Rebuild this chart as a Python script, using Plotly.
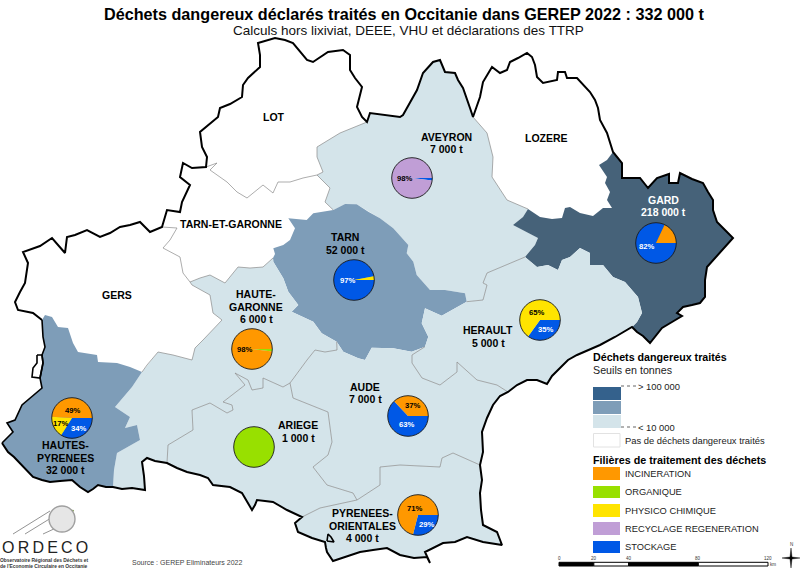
import plotly.graph_objects as go

W, H = 800, 570
# ---------- map outline arcs (image coordinates of the reference) ----------
a_hp_s = [(2,443),(8,452),(14,457),(20,463),(26,470),(33,477),(42,480),(50,482),(60,481),(72,480),(80,487),(88,492),(93,489),(98,485),(106,487),(113,487)]
a_hg_s = [(113,487),(122,489),(132,488),(145,490),(144,476),(142,462),(147,458),(155,461),(167,463)]
a_ar_s = [(167,463),(177,468),(187,472),(200,475),(208,478),(213,485),(230,487),(242,493),(247,502),(252,510),(255,505),(257,500),(265,501),(273,502),(287,510),(302,517)]
a_po_s = [(302,517),(295,523),(298,532),(312,538),(325,542),(326,548),(327,552),(333,561),(345,557),(360,552),(373,550),(387,548),(400,555),(414,558),(427,557),(430,563),(425,552),(443,543),(455,542),(467,537),(483,542),(502,545),(497,532),(483,525),(481,510),(480,493),(482,480),(480,465)]
a_au_c = [(480,465),(483,452),(482,432),(487,418),(493,405),(500,396),(508,392)]
a_he_c = [(508,392),(517,385),(527,380),(537,380),(547,384),(552,376),(560,368),(568,360),(577,355),(588,350),(600,345),(615,337),(632,327)]
a_ga_o = [(632,327),(637,332),(643,336),(650,343),(656,335),(662,328),(672,322),(682,316),(677,313),(683,307),(692,305),(700,303),(705,297),(705,280),(707,267),(715,258),(723,250),(733,238),(725,230),(717,222),(713,210),(713,200),(708,192),(703,183),(692,179),(680,173),(678,183),(669,183),(669,174),(657,178),(648,188),(640,178),(622,178),(622,163),(613,152)]
a_lz_o = [(613,152),(610,143),(607,133),(600,120),(598,108),(595,100),(590,92),(577,78),(567,78),(565,72),(558,72),(557,80),(543,83),(537,77),(535,65),(532,57),(527,53),(518,58),(510,62),(507,70),(500,73),(492,67),(488,74),(483,82),(480,97),(473,117)]
a_av_o = [(473,117),(470,108),(467,100),(463,88),(458,80),(455,73),(445,72),(440,60),(433,62),(423,73),(417,90),(410,103),(403,115),(400,117),(383,115),(370,113),(367,122)]
a_lo_o = [(367,122),(362,117),(357,107),(362,87),(355,78),(350,70),(350,55),(343,50),(328,52),(313,62),(307,60),(300,52),(293,43),(285,40),(275,38),(258,43),(260,55),(260,67),(248,78),(243,85),(242,97),(230,104),(220,108),(218,117),(208,125),(200,132),(202,147),(207,157),(206,167)]
a_tg_o = [(206,167),(192,168),(183,163),(180,177),(190,185),(186,193),(182,202),(180,212),(167,210),(162,227)]
a_ge_o = [(162,227),(150,232),(140,222),(130,225),(120,227),(110,233),(100,237),(87,230),(75,235),(67,237),(65,253),(58,245),(52,238),(40,246),(23,252),(28,263),(25,283),(20,292),(15,302),(18,310),(33,313),(42,320)]
a_hp_w = [(42,320),(43,337),(45,347),(42,355),(43,363),(40,378),(42,388),(32,397),(22,405),(15,420),(7,423),(13,432),(2,443)]

i_ge_hp = [(42,320),(45,315),(52,317),(58,327),(68,328),(73,343),(78,352),(97,355),(98,362),(117,363),(130,367),(142,372)]
i_hp_hg = [(142,372),(132,387),(115,407),(130,417),(125,428),(137,425),(140,440),(117,453),(114,470),(113,487)]
i_ge_hg = [(142,372),(147,365),(158,352),(173,355),(192,360),(195,348),(203,340),(222,320),(213,313),(210,295),(192,285),(190,282)]
i_tg_ge = [(162,227),(177,228),(170,240),(163,248),(180,257),(183,273),(190,282)]
i_tg_hg = [(190,282),(200,278),(210,275),(225,283),(238,267),(250,268),(263,267),(273,258)]
i_tn_hg = [(273,258),(273.3,261.7),(283.3,278.3),(288.3,291.7),(298.3,305),(291.7,311.7),(313.3,321.7),(321.7,333.3),(336.7,341.7)]
i_tg_tn = [(273,258),(275,254),(273.3,248.3),(283.3,245),(290,240),(295,228.3),(288.3,218.3),(306.7,220),(313.3,213.3),(323.3,211.7),(333.3,210)]
i_lo_tg = [(206,167),(217,163),(210,170),(227,182),(237,192),(247,198),(263,185),(273,193),(278,182),(290,182),(303,178),(317,175)]
i_lo_av = [(367,122),(340,133),(317,147),(317,157),(323,172),(317,175)]
i_tg_av = [(317,175),(330,188),(325,202),(333.3,210)]
i_tn_av = [(333.3,210),(345,204),(356.7,204.3),(368.3,211.7),(380,218.3),(393.3,228.3),(408.3,245),(406.7,253.3),(413.3,261.7),(416.7,275),(430,290),(445,290),(465,293.3),(466.7,301.7)]
i_av_he = [(466.7,301.7),(483,300),(487,285),(483,283),(487,273),(513,262),(525,257)]
i_tn_he = [(466.7,301.7),(455,308.3),(441.7,315.7),(425,308.3),(421.7,323.3),(428.3,336.7),(425,346.7)]
i_tn_au = [(425,346.7),(411.7,351.7),(393.3,348.3),(371.7,347.7),(365,360),(358.3,358.3),(343.3,351.7),(336.7,341.7)]
i_he_au = [(425,346.7),(412,355),(412,363),(422,378),(440,385),(457,372),(457,362),(477,380),(497,385),(508,392)]
i_hg_au = [(336.7,341.7),(337,350),(325,352),(315,350),(307,360),(293,378),(290,383)]
i_hg_ar = [(290,383),(283,387),(263,378),(263,388),(252,390),(248,380),(235,373),(245,385),(223,402),(232,405),(233,410),(227,413),(210,403),(192,410),(193,430),(168,445),(167,463)]
i_ar_au = [(290,383),(293,398),(328,412),(332,442),(328,455),(313,467),(327,485),(353,493),(357,500)]
i_ar_po = [(302,517),(320,508),(357,500)]
i_au_po = [(357,500),(380,485),(380,467),(400,465),(440,467),(442,458),(453,453),(480,465)]
i_av_lz = [(473,117),(487,133),(493,157),(492,177),(507,200),(528,209)]
i_lz_ga = [(528,209),(540,217),(552,219),(562,218),(565,208),(570,207),(580,213),(593,216),(603,208),(612,208),(607,200),(610,192),(605,183),(607,177),(599,165),(607,160),(613,152)]
i_av_ga = [(528,209),(523,217),(513,225),(527,232),(538,238),(535,245),(525,257)]
i_he_ga = [(525,257),(537,267),(548,265),(558,270),(562,260),(570,257),(580,248),(590,253),(590,265),(603,265),(613,277),(625,282),(638,297),(642,313),(637,322),(632,327)]
enclave_hp = [(37,355),(42,355),(43,363),(40,378),(32,377),(33,368),(37,363),(37,355)]
enclave_po = [(327,541),(328,534),(331,537),(334,542),(327,541)]

r = lambda a: a[::-1]
dept_shapes = {
    "HAUTES-PYRENEES": a_hp_s + r(i_hp_hg) + r(i_ge_hp) + a_hp_w,
    "HAUTE-GARONNE": a_hg_s + r(i_hg_ar) + r(i_hg_au) + r(i_tn_hg) + r(i_tg_hg) + r(i_ge_hg) + i_hp_hg,
    "ARIEGE": a_ar_s + i_ar_po + r(i_ar_au) + i_hg_ar,
    "AUDE": i_ar_au + i_au_po + a_au_c + r(i_he_au) + i_tn_au + i_hg_au,
    "PYRENEES-ORIENTALES": a_po_s + r(i_au_po) + r(i_ar_po),
    "HERAULT": a_he_c + r(i_he_ga) + r(i_av_he) + i_tn_he + i_he_au,
    "GARD": a_ga_o + r(i_lz_ga) + i_av_ga + i_he_ga,
    "LOZERE": a_lz_o + i_av_lz + i_lz_ga,
    "AVEYRON": a_av_o + i_lo_av + i_tg_av + i_tn_av + i_av_he + r(i_av_ga) + r(i_av_lz),
    "LOT": a_lo_o + i_lo_tg + r(i_lo_av),
    "TARN-ET-GARONNE": a_tg_o + i_tg_ge + i_tg_hg + i_tg_tn + r(i_tg_av) + r(i_lo_tg),
    "GERS": a_ge_o + i_ge_hp + i_ge_hg + r(i_tg_ge),
    "TARN": i_tg_tn + i_tn_av + i_tn_he + i_tn_au + r(i_tn_hg),
}
# ---------- data ----------
departments = ["LOT","TARN-ET-GARONNE","GERS","LOZERE","AVEYRON","TARN","GARD","HAUTE-GARONNE","HERAULT","ARIEGE","AUDE","HAUTES-PYRENEES","PYRENEES-ORIENTALES"]
tonnes = [0,0,0,0,7000,52000,218000,6000,5000,1000,7000,32000,4000]
filieres = ["INCINERATION","ORGANIQUE","PHYSICO CHIMIQUE","RECYCLAGE REGENERATION","STOCKAGE"]
filiere_colors = ["#ff9800","#98e000","#ffe400","#c09ed6","#0058e6"]
shares = {
    "AVEYRON":            [0,0,0,98,2],
    "GARD":               [18,0,0,0,82],
    "TARN":               [0,0,3,0,97],
    "HAUTE-GARONNE":      [98,2,0,0,0],
    "HERAULT":            [0,0,65,0,35],
    "HAUTES-PYRENEES":    [49,0,17,0,34],
    "ARIEGE":             [0,100,0,0,0],
    "AUDE":               [37,0,0,0,63],
    "PYRENEES-ORIENTALES":[71,0,0,0,29],
}
pie_centres = {"AVEYRON":(412,178),"GARD":(656,243),"TARN":(354,280),"HAUTE-GARONNE":(252,349),"HERAULT":(540,320),
               "HAUTES-PYRENEES":(72,418),"ARIEGE":(254,447),"AUDE":(408,416),"PYRENEES-ORIENTALES":(418,515)}
pie_labels = [("98%",405,178,"#000"),("82%",647,246,"#fff"),("97%",348,280,"#fff"),("98%",245,349,"#000"),("65%",537,312,"#000"),("35%",546,329,"#fff"),
              ("49%",73,410,"#000"),("17%",61,423,"#000"),("34%",79,428,"#fff"),("37%",413,405,"#000"),("63%",407,424,"#fff"),("71%",415,508,"#000"),("29%",427,524,"#fff")]
map_labels = [("LOT",274,117,"#000"),("TARN-ET-GARONNE",231,223.5,"#000"),("TARN",345,237,"#000"),("52 000 t",345,249.5,"#000"),
              ("AVEYRON",446,136.5,"#000"),("7 000 t",446,149,"#000"),("LOZERE",546.5,138,"#000"),("GARD",663,199.5,"#fff"),("218 000 t",663,212,"#fff"),
              ("GERS",117,295,"#000"),("HAUTE-",256,294,"#000"),("GARONNE",256,306.5,"#000"),("6 000 t",256,319,"#000"),
              ("HERAULT",488,330,"#000"),("5 000 t",488,342.5,"#000"),("ARIEGE",298,425,"#000"),("1 000 t",298,438,"#000"),
              ("AUDE",365,386.5,"#000"),("7 000 t",365,399,"#000"),("HAUTES-",65,445,"#000"),("PYRENEES",65,457.5,"#000"),("32 000 t",65,470,"#000"),
              ("PYRENEES-",362,513,"#000"),("ORIENTALES",362,525.5,"#000"),("4 000 t",362,538,"#000")]
seuil_colors = ["#34618c","#7e9db8","#d4e4ea"]
scale_ticks = ["0","20","40","80","120"]
scale_km = [0,20,40,80,120]

def fill_for(t):
    if t == 0: return "#ffffff"
    if t >= 100000: return "#466279"
    if t >= 10000: return "#7e9db8"
    return "#d4e4ea"

fig = go.Figure()
for name, t in zip(departments, tonnes):
    pts = dept_shapes[name]
    fig.add_trace(go.Scatter(x=[p[0] for p in pts], y=[p[1] for p in pts], mode="lines", fill="toself",
                             fillcolor=fill_for(t), line=dict(width=0), hoverinfo="skip", name=name, showlegend=False))
for arc in [i_ge_hg,i_tg_ge,i_tg_hg,i_lo_tg,i_lo_av,i_tg_av,i_av_he,i_he_au,i_hg_au,i_hg_ar,i_ar_au,i_ar_po,i_au_po,i_av_lz]:
    fig.add_trace(go.Scatter(x=[p[0] for p in arc], y=[p[1] for p in arc], mode="lines", line=dict(color="#8a8a8a", width=0.7),
                             hoverinfo="skip", showlegend=False))
outer = a_hp_s + a_hg_s + a_ar_s + a_po_s + a_au_c + a_he_c + a_ga_o + a_lz_o + a_av_o + a_lo_o + a_tg_o + a_ge_o
for arc, w in [(outer,2),(a_hp_w,1.6),(enclave_hp,1.6),(enclave_po,1.6)]:
    fig.add_trace(go.Scatter(x=[p[0] for p in arc], y=[p[1] for p in arc], mode="lines", line=dict(color="#000", width=w),
                             hoverinfo="skip", showlegend=False))

shapes, ann = [], []
# pies: slices run anticlockwise from east, so feed them clockwise in reverse order
R = 20.3
for name, vals in shares.items():
    cx, cy = pie_centres[name]
    keep = [i for i, v in enumerate(vals) if v > 0][::-1]
    fig.add_trace(go.Pie(values=[vals[i] for i in keep], labels=[filieres[i] for i in keep], sort=False, direction="clockwise", rotation=90,
                         marker=dict(colors=[filiere_colors[i] for i in keep], line=dict(width=0)), textinfo="none", hoverinfo="label+percent",
                         showlegend=False, domain=dict(x=[(cx-R)/W,(cx+R)/W], y=[1-(cy+R)/H,1-(cy-R)/H])))
    shapes.append(dict(type="circle",x0=cx-R,x1=cx+R,y0=cy-R,y1=cy+R,xref="x",yref="y",layer="above",fillcolor="rgba(0,0,0,0)",line=dict(color="#1a1a1a",width=0.9)))

def text(s,x,y,size=10.5,color="#000",bold=False,anchor="center",family="Liberation Sans"):
    ann.append(dict(text=f"<b>{s}</b>" if bold else s,x=x,y=y,xref="x",yref="y",showarrow=False,xanchor=anchor,yanchor="middle",
                    font=dict(size=size,color=color,family=family),borderpad=0,borderwidth=0))
def rect(x0,y0,x1,y1,fill,line=None):
    shapes.append(dict(type="rect",x0=x0,y0=y0,x1=x1,y1=y1,xref="x",yref="y",fillcolor=fill,line=dict(width=1 if line else 0,color=line or fill)))

text("Déchets dangereux déclarés traités en Occitanie dans GEREP 2022 : 332 000 t",403.5,14,16.2,bold=True)
text("Calculs hors lixiviat, DEEE, VHU et déclarations des TTRP",408.5,30,13.5,color="#111")
for s,x,y,c in map_labels: text(s,x,y,10.5,c,True)
for s,x,y,c in pie_labels: text(s,x,y,7.7,c,True)

# legend
text("Déchets dangereux traités",593,357,10.7,bold=True,anchor="left")
text("Seuils en tonnes",593,369.5,10.7,color="#222",anchor="left")
for c,(y0,y1) in zip(seuil_colors,[(387,400),(401,414),(415,428)]): rect(593,y0,621,y1,c)
for y in (386,427):
    shapes.append(dict(type="line",x0=621,x1=636,y0=y,y1=y,xref="x",yref="y",line=dict(color="#666",width=1,dash="3px,3px")))
text("> 100 000",638,386,9.4,color="#222",anchor="left")
text("< 10 000",638,427,9.4,color="#222",anchor="left")
rect(593.5,433.5,620,447,"#fff","#e2e2e2")
text("Pas de déchets dangereux traités",625,440,9.4,color="#222",anchor="left")
text("Filières de traitement des déchets",593,459.5,10.75,bold=True,anchor="left")
for f,c,(y0,y1) in zip(filieres,filiere_colors,[(467,480),(486,498),(504,517),(522,535),(541,553)]):
    rect(593,y0,620,y1,c)
    text(f,625,(y0+y1)/2,9.3,color="#222",anchor="left")

# scale bar
sx = lambda km: 559+km*209/120
for a,b,c in zip(scale_km[:-1],scale_km[1:],["#000","#fff","#000","#fff"]):
    rect(sx(a),562.3,sx(b),566,c,"#000")
for s,km in zip(scale_ticks,scale_km): text(s,sx(km),558,4.5,color="#333")
text("km",773,564,4.5,color="#333")
# north arrow
text("N",791,544,4.5,color="#333")
star = [(791,548),(792,557),(800,558),(792,559),(791,568),(790,559),(782,558),(790,557),(791,548)]
fig.add_trace(go.Scatter(x=[p[0] for p in star],y=[p[1] for p in star],mode="lines",fill="toself",fillcolor="#000",line=dict(color="#000",width=0.4),hoverinfo="skip",showlegend=False))

# logo
for (x0,y0,x1,y1) in [(13,534,50,511),(25,534,51,518),(43,534,56,528)]:
    shapes.append(dict(type="line",x0=x0,y0=y0,x1=x1,y1=y1,xref="x",yref="y",line=dict(color="#777",width=0.8)))
shapes.append(dict(type="circle",x0=49,y0=506,x1=75,y1=532,xref="x",yref="y",fillcolor="#e6e6e6",line=dict(color="#a0a0a0",width=1.4)))
logo_tri = [(65,509),(74,510),(71,518),(65,509)]
fig.add_trace(go.Scatter(x=[p[0] for p in logo_tri],y=[p[1] for p in logo_tri],mode="lines",fill="toself",fillcolor="#7f9a52",line=dict(width=0),hoverinfo="skip",showlegend=False))
text("O\u2009R\u2009D\u2009E\u2009C\u2009O",44.5,547,16,color="#222",family="Liberation Sans")
text("Observatoire Régional des Déchets et",44,560,4.9,color="#333",bold=True)
text("de l'Economie Circulaire en Occitanie",44,566.5,4.9,color="#333",bold=True)
text("Source : GEREP Eliminateurs 2022",186.5,562,7,color="#444")

ax = dict(visible=False,fixedrange=True,showgrid=False,zeroline=False)
fig.update_layout(width=W,height=H,autosize=False,margin=dict(l=0,r=0,t=0,b=0),paper_bgcolor="#fff",plot_bgcolor="#fff",
                  xaxis=dict(range=[0,W],**ax),yaxis=dict(range=[H,0],**ax),shapes=shapes,annotations=ann,showlegend=False,
                  font=dict(family="Liberation Sans"))
fig.write_html("out.html",config=dict(displayModeBar=False),
               post_script="document.body.style.margin='0';document.body.style.overflow='hidden';")
